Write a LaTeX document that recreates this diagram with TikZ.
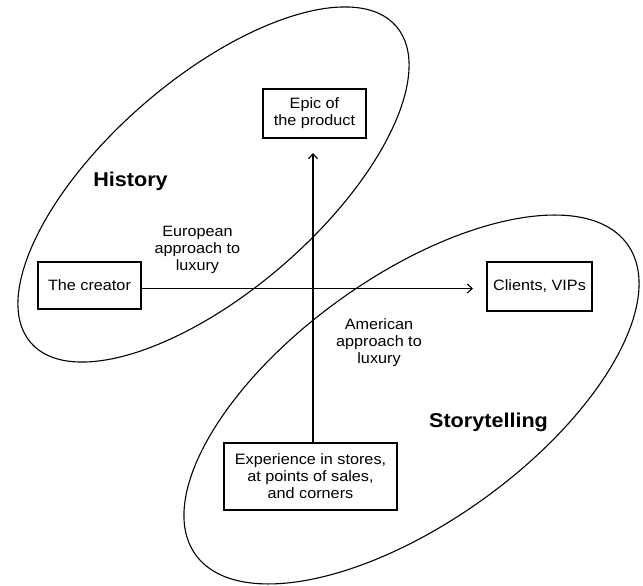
\documentclass[tikz,border=0pt]{standalone}
\usepackage{fontspec}
\setmainfont{Liberation Sans}[FakeStretch=1.08]
\usetikzlibrary{arrows.meta}
\begin{document}
\begin{tikzpicture}[x=1pt,y=1pt,
  box/.style={draw, line width=1.1pt, align=center, inner sep=2pt,
    font=\fontsize{15}{17}\selectfont},
  lbl/.style={align=center, font=\fontsize{15}{17}\selectfont},
  big/.style={font=\fontsize{20}{22}\selectfont\bfseries},
  oval/.style={draw, line width=1.1pt},
  arr/.style={line width=1.1pt, -{Straight Barb[length=5pt,width=9pt]}}]
\useasboundingbox (0,0) rectangle (643,586);
% ellipses
\draw[oval, rotate around={40.9:(213.5,401.5)}] (213.5,401.5) ellipse [x radius=241.7, y radius=106.4];
\draw[oval, rotate around={35.7:(411.5,186.5)}] (411.5,186.5) ellipse [x radius=265.9, y radius=122.8];
% boxes
\node[box, minimum width=103, minimum height=49] (epic) at (314.5,472.5) {Epic of\\the product};
\node[box, minimum width=103, minimum height=47] (creator) at (89.5,300.5) {The creator};
\node[box, minimum width=105, minimum height=49] (clients) at (539.5,299.5) {Clients, VIPs};
\node[box, minimum width=173, minimum height=67] (exper) at (310.5,109.5) {Experience in stores,\\at points of sales,\\and corners};
% labels
\node[big, anchor=base] (hist) at (130.5,399) {History};
\node[big, anchor=base] (story) at (488.5,158) {Storytelling};
\node[lbl] (euro) at (197.5,336) {European\\approach to\\luxury};
\node[lbl] (amer) at (379,243) {American\\approach to\\luxury};
% arrows
\coordinate (vtip) at (313,433);
\coordinate (htip) at (473,297.5);
\draw[arr] (exper.north -| vtip) -- (vtip);
\draw[arr] (creator.east |- htip) -- (htip);
\end{tikzpicture}
\end{document}
